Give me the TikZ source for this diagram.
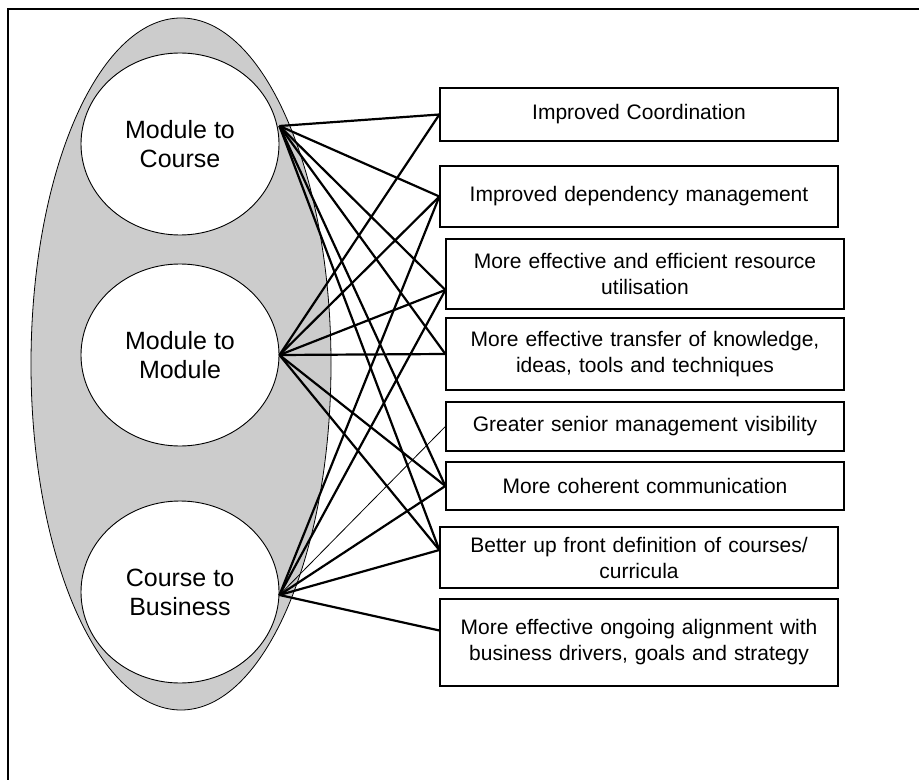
\documentclass[tikz,border=0pt]{standalone}
\usepackage{fontspec}
\setmainfont{Liberation Sans}
\usetikzlibrary{shapes.geometric}

\tikzset{
  level/.style={ellipse, draw, line width=0.45pt, fill=white, minimum width=99pt,
    minimum height=91pt, inner sep=0pt, align=center, font=\fontsize{12.5}{14.5}\selectfont},
  benefit/.style={rectangle, draw, line width=0.65pt, fill=white, text width=185pt,
    inner xsep=7pt, inner ysep=0pt, align=center, font=\fontsize{10.5}{13}\selectfont},
  link/.style={line width=1.1pt},
  thinlink/.style={line width=0.4pt}
}

\begin{document}
\begin{tikzpicture}[x=0.5pt,y=-0.5pt]
  \useasboundingbox (0,0) rectangle (919,780);
  % frame
  \draw[line width=1pt] (8,780) -- (8,9) -- (919,9);
  % grey group
  \draw[line width=0.4pt, fill=gray!40] (181,364) ellipse [x radius=150, y radius=346];

  \node[level] (mc) at (180,144) {Module to\\Course};
  \node[level] (mm) at (180,355) {Module to\\Module};
  \node[level] (cb) at (180,592) {Course to\\Business};

  \coordinate (mcp) at ([yshift=9pt]mc.east);
  \coordinate (mmp) at (mm.east);
  \coordinate (cbp) at ([yshift=-1.5pt]cb.east);

  \node[benefit, minimum height=26.5pt] (b1) at (639,114.5) {Improved Coordination};
  \node[benefit, minimum height=30.5pt] (b2) at (639,196.5) {Improved dependency management};
  \node[benefit, minimum height=35pt] (b3) at (645,274) {More effective and efficient resource\\utilisation};
  \node[benefit, minimum height=36pt] (b4) at (645,354) {More effective transfer of knowledge,\\ideas, tools and techniques};
  \node[benefit, minimum height=24.5pt] (b5) at (645,426.5) {Greater senior management visibility};
  \node[benefit, minimum height=24pt] (b6) at (645,486) {More coherent communication};
  \node[benefit, minimum height=30.5pt] (b7) at (639,557.5) {Better up front definition of courses/\\curricula};
  \node[benefit, minimum height=43.5pt] (b8) at (639,642.5) {More effective ongoing alignment with\\business drivers, goals and strategy};

  \path[link]
    (mcp) edge (b1.west)
          edge (b2.west)
          edge ([yshift=-8pt]b3.west)
          edge (b4.west)
          edge (b6.west)
          edge ([yshift=3.75pt]b7.west)
    (mmp) edge (b1.west)
          edge (b2.west)
          edge ([yshift=-8pt]b3.west)
          edge (b4.west)
          edge (b6.west)
          edge ([yshift=3.75pt]b7.west)
    (cbp) edge (b2.west)
          edge ([yshift=-8pt]b3.west)
          edge (b6.west)
          edge ([yshift=3.75pt]b7.west)
          edge ([yshift=6pt]b8.west);
  \draw[thinlink] (cbp) -- (b5.west);
\end{tikzpicture}
\end{document}
